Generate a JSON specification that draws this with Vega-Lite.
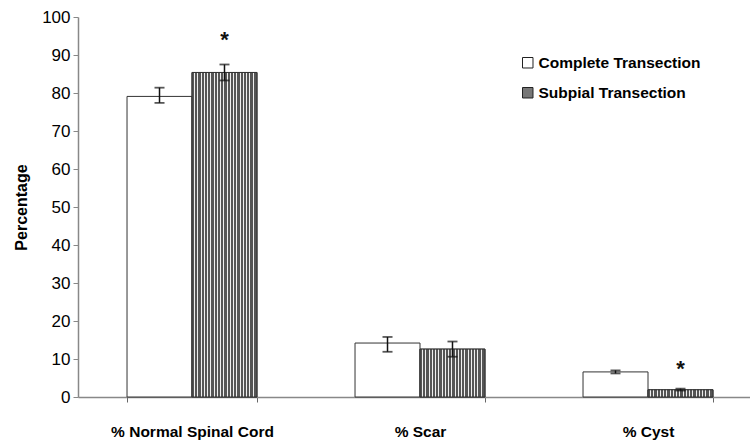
{
  "$schema": "https://vega.github.io/schema/vega-lite/v6.json",
  "autosize": "none",
  "width": 684,
  "height": 380,
  "padding": {"left": 78, "top": 17, "right": 0, "bottom": 50},
  "background": "white",
  "config": {
    "view": {"stroke": null},
    "font": "Liberation Sans",
    "axisY": {
      "tickCount": 10, "grid": false, "labelOverlap": false, "labelFontSize": 17, "labelColor": "black",
      "labelPadding": 3, "domainColor": "#888", "domainWidth": 1.5, "tickColor": "#888", "tickSize": 5,
      "titleFontSize": 16, "titleFontWeight": "bold", "titleColor": "black", "titlePadding": 12
    }
  },
  "data": {
    "values": [
      {"category": "% Normal Spinal Cord", "group": "Complete Transection", "value": 79.1, "lo": 77.4, "hi": 81.4, "star": null},
      {"category": "% Normal Spinal Cord", "group": "Subpial Transection", "value": 85.4, "lo": 83.3, "hi": 87.5, "star": 95.3},
      {"category": "% Scar", "group": "Complete Transection", "value": 14.2, "lo": 11.9, "hi": 15.8, "star": null},
      {"category": "% Scar", "group": "Subpial Transection", "value": 12.6, "lo": 10.6, "hi": 14.6, "star": null},
      {"category": "% Cyst", "group": "Complete Transection", "value": 6.6, "lo": 6.2, "hi": 7.0, "star": null},
      {"category": "% Cyst", "group": "Subpial Transection", "value": 1.9, "lo": 1.7, "hi": 2.2, "star": 8.6}
    ]
  },
  "encoding": {
    "x": {
      "field": "category", "type": "nominal", "sort": null,
      "scale": {"paddingInner": 0.43, "paddingOuter": 0.215},
      "axis": {
        "title": null, "labelAngle": 0, "labelFontSize": 15.5, "labelFontWeight": "bold",
        "labelColor": "black", "labelPadding": 22, "domainColor": "#888", "domainWidth": 1.5,
        "tickBand": "extent", "tickColor": "#666", "tickSize": 5
      }
    },
    "xOffset": {"field": "group", "type": "nominal", "sort": ["Complete Transection", "Subpial Transection"]}
  },
  "layer": [
    {
      "mark": {"type": "bar", "stroke": "#333", "strokeWidth": 1},
      "encoding": {
        "y": {
          "field": "value", "type": "quantitative",
          "scale": {"domain": [0, 100]},
          "title": "Percentage"
        },
        "fill": {
          "field": "group", "type": "nominal",
          "scale": {"domain": ["Complete Transection", "Subpial Transection"], "range": ["white", "#777"]},
          "legend": {
            "title": null, "orient": "none", "legendX": 442, "legendY": 38,
            "symbolType": "square", "symbolSize": 110, "symbolStrokeColor": "#222", "symbolStrokeWidth": 1,
            "labelFontSize": 15.5, "labelColor": "black", "labelFontWeight": "bold", "labelLimit": 400,
            "rowPadding": 13, "labelOffset": 3
          }
        }
      }
    },
    {
      "transform": [{"filter": "datum.group === 'Subpial Transection'"}],
      "mark": {
        "type": "bar", "stroke": "#333", "strokeWidth": 1,
        "fill": {
          "gradient": "linear", "x1": 0, "x2": 1, "y1": 0, "y2": 0,
          "stops": [
            {"offset": 0.0, "color": "#555"}, {"offset": 0.032, "color": "#555"}, {"offset": 0.032, "color": "#eee"}, {"offset": 0.05, "color": "#eee"},
            {"offset": 0.05, "color": "#555"}, {"offset": 0.082, "color": "#555"}, {"offset": 0.082, "color": "#eee"}, {"offset": 0.1, "color": "#eee"},
            {"offset": 0.1, "color": "#555"}, {"offset": 0.132, "color": "#555"}, {"offset": 0.132, "color": "#eee"}, {"offset": 0.15, "color": "#eee"},
            {"offset": 0.15, "color": "#555"}, {"offset": 0.182, "color": "#555"}, {"offset": 0.182, "color": "#eee"}, {"offset": 0.2, "color": "#eee"},
            {"offset": 0.2, "color": "#555"}, {"offset": 0.232, "color": "#555"}, {"offset": 0.232, "color": "#eee"}, {"offset": 0.25, "color": "#eee"},
            {"offset": 0.25, "color": "#555"}, {"offset": 0.282, "color": "#555"}, {"offset": 0.282, "color": "#eee"}, {"offset": 0.3, "color": "#eee"},
            {"offset": 0.3, "color": "#555"}, {"offset": 0.332, "color": "#555"}, {"offset": 0.332, "color": "#eee"}, {"offset": 0.35, "color": "#eee"},
            {"offset": 0.35, "color": "#555"}, {"offset": 0.382, "color": "#555"}, {"offset": 0.382, "color": "#eee"}, {"offset": 0.4, "color": "#eee"},
            {"offset": 0.4, "color": "#555"}, {"offset": 0.432, "color": "#555"}, {"offset": 0.432, "color": "#eee"}, {"offset": 0.45, "color": "#eee"},
            {"offset": 0.45, "color": "#555"}, {"offset": 0.482, "color": "#555"}, {"offset": 0.482, "color": "#eee"}, {"offset": 0.5, "color": "#eee"},
            {"offset": 0.5, "color": "#555"}, {"offset": 0.532, "color": "#555"}, {"offset": 0.532, "color": "#eee"}, {"offset": 0.55, "color": "#eee"},
            {"offset": 0.55, "color": "#555"}, {"offset": 0.582, "color": "#555"}, {"offset": 0.582, "color": "#eee"}, {"offset": 0.6, "color": "#eee"},
            {"offset": 0.6, "color": "#555"}, {"offset": 0.632, "color": "#555"}, {"offset": 0.632, "color": "#eee"}, {"offset": 0.65, "color": "#eee"},
            {"offset": 0.65, "color": "#555"}, {"offset": 0.682, "color": "#555"}, {"offset": 0.682, "color": "#eee"}, {"offset": 0.7, "color": "#eee"},
            {"offset": 0.7, "color": "#555"}, {"offset": 0.732, "color": "#555"}, {"offset": 0.732, "color": "#eee"}, {"offset": 0.75, "color": "#eee"},
            {"offset": 0.75, "color": "#555"}, {"offset": 0.782, "color": "#555"}, {"offset": 0.782, "color": "#eee"}, {"offset": 0.8, "color": "#eee"},
            {"offset": 0.8, "color": "#555"}, {"offset": 0.832, "color": "#555"}, {"offset": 0.832, "color": "#eee"}, {"offset": 0.85, "color": "#eee"},
            {"offset": 0.85, "color": "#555"}, {"offset": 0.882, "color": "#555"}, {"offset": 0.882, "color": "#eee"}, {"offset": 0.9, "color": "#eee"},
            {"offset": 0.9, "color": "#555"}, {"offset": 0.932, "color": "#555"}, {"offset": 0.932, "color": "#eee"}, {"offset": 0.95, "color": "#eee"},
            {"offset": 0.95, "color": "#555"}, {"offset": 1.0, "color": "#555"}
          ]
        }
      },
      "encoding": {"y": {"field": "value", "type": "quantitative", "title": "Percentage"}}
    },
    {
      "mark": {"type": "rule", "color": "#111", "strokeWidth": 1.5},
      "encoding": {"y": {"field": "lo", "type": "quantitative", "title": "Percentage"}, "y2": {"field": "hi"}}
    },
    {
      "mark": {"type": "tick", "color": "#111", "size": 10, "thickness": 1.8},
      "encoding": {"y": {"field": "lo", "type": "quantitative", "title": "Percentage"}}
    },
    {
      "mark": {"type": "tick", "color": "#111", "size": 10, "thickness": 1.8},
      "encoding": {"y": {"field": "hi", "type": "quantitative", "title": "Percentage"}}
    },
    {
      "transform": [{"filter": "datum.star != null"}],
      "mark": {"type": "text", "text": "*", "fontSize": 22, "fontWeight": "bold", "baseline": "middle", "dy": 5, "color": "#111"},
      "encoding": {"y": {"field": "star", "type": "quantitative", "title": "Percentage"}}
    }
  ]
}
